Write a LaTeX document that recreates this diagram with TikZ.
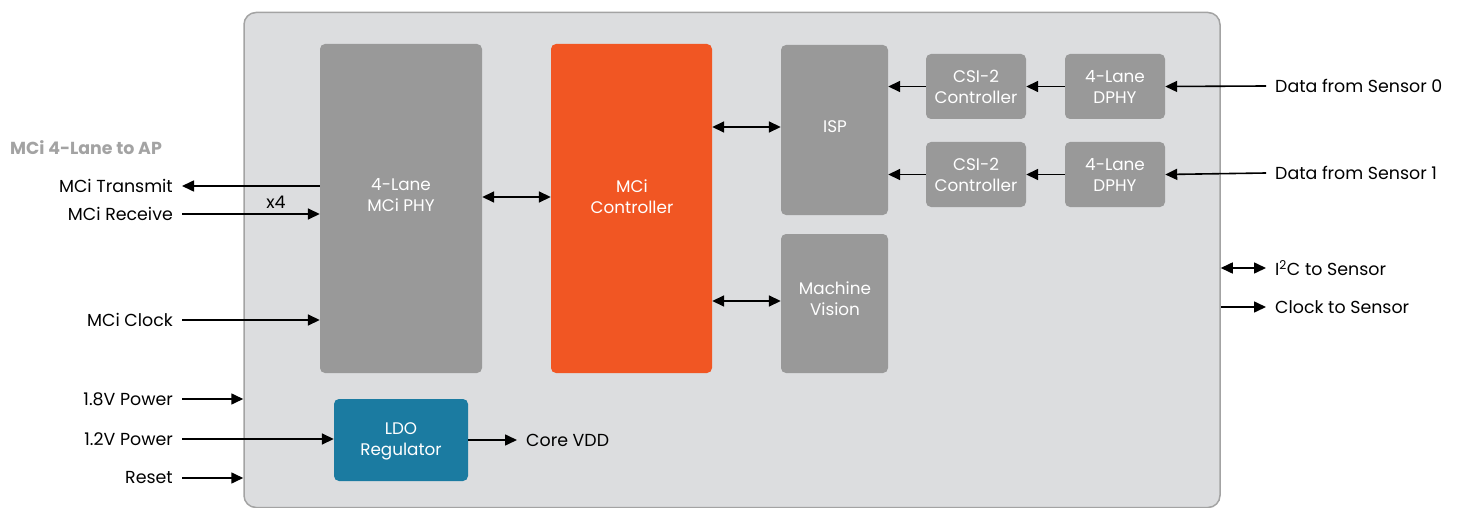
\documentclass[tikz,border=0pt]{standalone}
\usepackage{fontspec}
\setmainfont{Poppins}
\usetikzlibrary{arrows.meta, positioning}
\definecolor{chipgray}{HTML}{DCDDDF}
\definecolor{chipline}{HTML}{A3A3A3}
\definecolor{blockgray}{HTML}{999999}
\definecolor{mciorange}{HTML}{F15623}
\definecolor{ldoblue}{HTML}{1B7BA1}
\definecolor{apgray}{HTML}{A3A3A3}
\newcommand{\blockfont}{\fontsize{16.8}{21}\selectfont}
\newcommand{\lblfont}{\fontsize{17.4}{20}\selectfont}

\tikzset{
  block/.style={rounded corners=5pt, inner sep=0pt},
  btext/.style={text=white, align=center, font=\blockfont, inner sep=0pt},
  lbl/.style={font=\lblfont, inner xsep=9pt, inner ysep=0pt},
  arr/.style={-{Triangle[length=12pt,width=11pt]}, line width=1.6pt},
  darr/.style={{Triangle[length=12pt,width=11pt]}-{Triangle[length=12pt,width=11pt]}, line width=1.6pt},
}

\begin{document}
\begin{tikzpicture}[x=1pt,y=-1pt]
    \useasboundingbox (0,0) rectangle (1460,508);
    % chip outline
    \node[draw=chipline, fill=chipgray, line width=1.5pt, rounded corners=12pt,
      minimum width=976, minimum height=495, inner sep=0pt] (chip) at (732,260) {};
    % blocks
    \node[block, fill=blockgray, minimum width=162, minimum height=329] (phy) at (401,208.5) {};
    \node[btext] (phytxt) at (401,195) {4-Lane\\MCi PHY};
    \node[block, fill=mciorange, minimum width=161, minimum height=329] (mci) at (631.5,208.5) {};
    \node[btext] (mcitxt) at (632,197) {MCi\\Controller};
    \node[block, fill=blockgray, minimum width=107, minimum height=170] (isp) at (834.5,130) {};
    \node[btext] at (835,127) {ISP};
    \node[block, fill=blockgray, minimum width=107, minimum height=139] (mv) at (834.5,303.5) {};
    \node[btext] at (835,299) {Machine\\Vision};
    \node[block, fill=blockgray, minimum width=100, minimum height=65] (csia) at (976,86.5) {};
    \node[btext] at (976,87) {CSI-2\\Controller};
    \node[block, fill=blockgray, minimum width=100, minimum height=65] (csib) at (976,174.5) {};
    \node[btext] at (976,175) {CSI-2\\Controller};
    \node[block, fill=blockgray, minimum width=100, minimum height=65] (dphya) at (1115,86.5) {};
    \node[btext] at (1115,87) {4-Lane\\DPHY};
    \node[block, fill=blockgray, minimum width=100, minimum height=65] (dphyb) at (1115,174.5) {};
    \node[btext] at (1115,175) {4-Lane\\DPHY};
    \node[block, fill=ldoblue, minimum width=134, minimum height=82] (ldo) at (401,440) {};
    \node[btext] at (401,441) {LDO\\Regulator};
    % left side labels
    \node[font=\fontsize{17.4}{20}\selectfont\bfseries, text=apgray, anchor=west, inner sep=0pt] (ap) at (10,148) {MCi 4-Lane to AP};
    \node[lbl, anchor=east] (tx) at (182,186) {MCi Transmit};
    \node[lbl, anchor=east] (rx) at (182,214) {MCi Receive};
    \node[font=\lblfont, inner sep=0pt] (xfour) at (276,202) {x4};
    \node[lbl, anchor=east] (clk) at (182,320) {MCi Clock};
    \node[lbl, anchor=east] (pa) at (182,399) {1.8V Power};
    \node[lbl, anchor=east] (pb) at (182,439) {1.2V Power};
    \node[lbl, anchor=east] (rst) at (182,478) {Reset};
    \node[lbl, anchor=west] (vdd) at (517,440) {Core VDD};
    % right side labels
    \node[lbl, anchor=west] (sa) at (1266,86) {Data from Sensor 0};
    \node[lbl, anchor=west] (sb) at (1266,173) {Data from Sensor 1};
    \node[lbl, anchor=west] (i2c) at (1266,268) {I\textsuperscript{2}C to Sensor};
    \node[lbl, anchor=west] (clks) at (1266,307) {Clock to Sensor};
    % AP side
    \draw[arr] (phy.west |- tx) -- (tx.east);
    \draw[arr] (rx.east) -- (phy.west |- rx);
    \draw[arr] (clk.east) -- (phy.west |- clk);
    \draw[arr] (pa.east) -- (chip.west |- pa);
    \draw[arr] (pb.east) -- (ldo.west |- pb);
    \draw[arr] (rst.east) -- (chip.west |- rst);
    \draw[arr] (ldo.east |- vdd) -- (vdd.west);
    % inside the chip
    \draw[darr] (phy.east |- mcitxt) -- (mci.west |- mcitxt);
    \draw[darr] (mci.east |- 0,127) -- (isp.west |- 0,127);
    \draw[darr] (mci.east |- 0,301) -- (mv.west |- 0,301);
    \draw[arr] (csia.west) -- (csia.west -| isp.east);
    \draw[arr] (csib.west) -- (csib.west -| isp.east);
    \draw[arr] (dphya.west) -- (csia.east);
    \draw[arr] (dphyb.west) -- (csib.east);
    % sensor side
    \draw[arr] (sa.west) -- (dphya.east);
    \draw[arr] (sb.west) -- (dphyb.east);
    \draw[darr] (chip.east |- i2c) -- (i2c.west);
    \draw[arr] (chip.east |- clks) -- (clks.west);
  \end{tikzpicture}
\end{document}
